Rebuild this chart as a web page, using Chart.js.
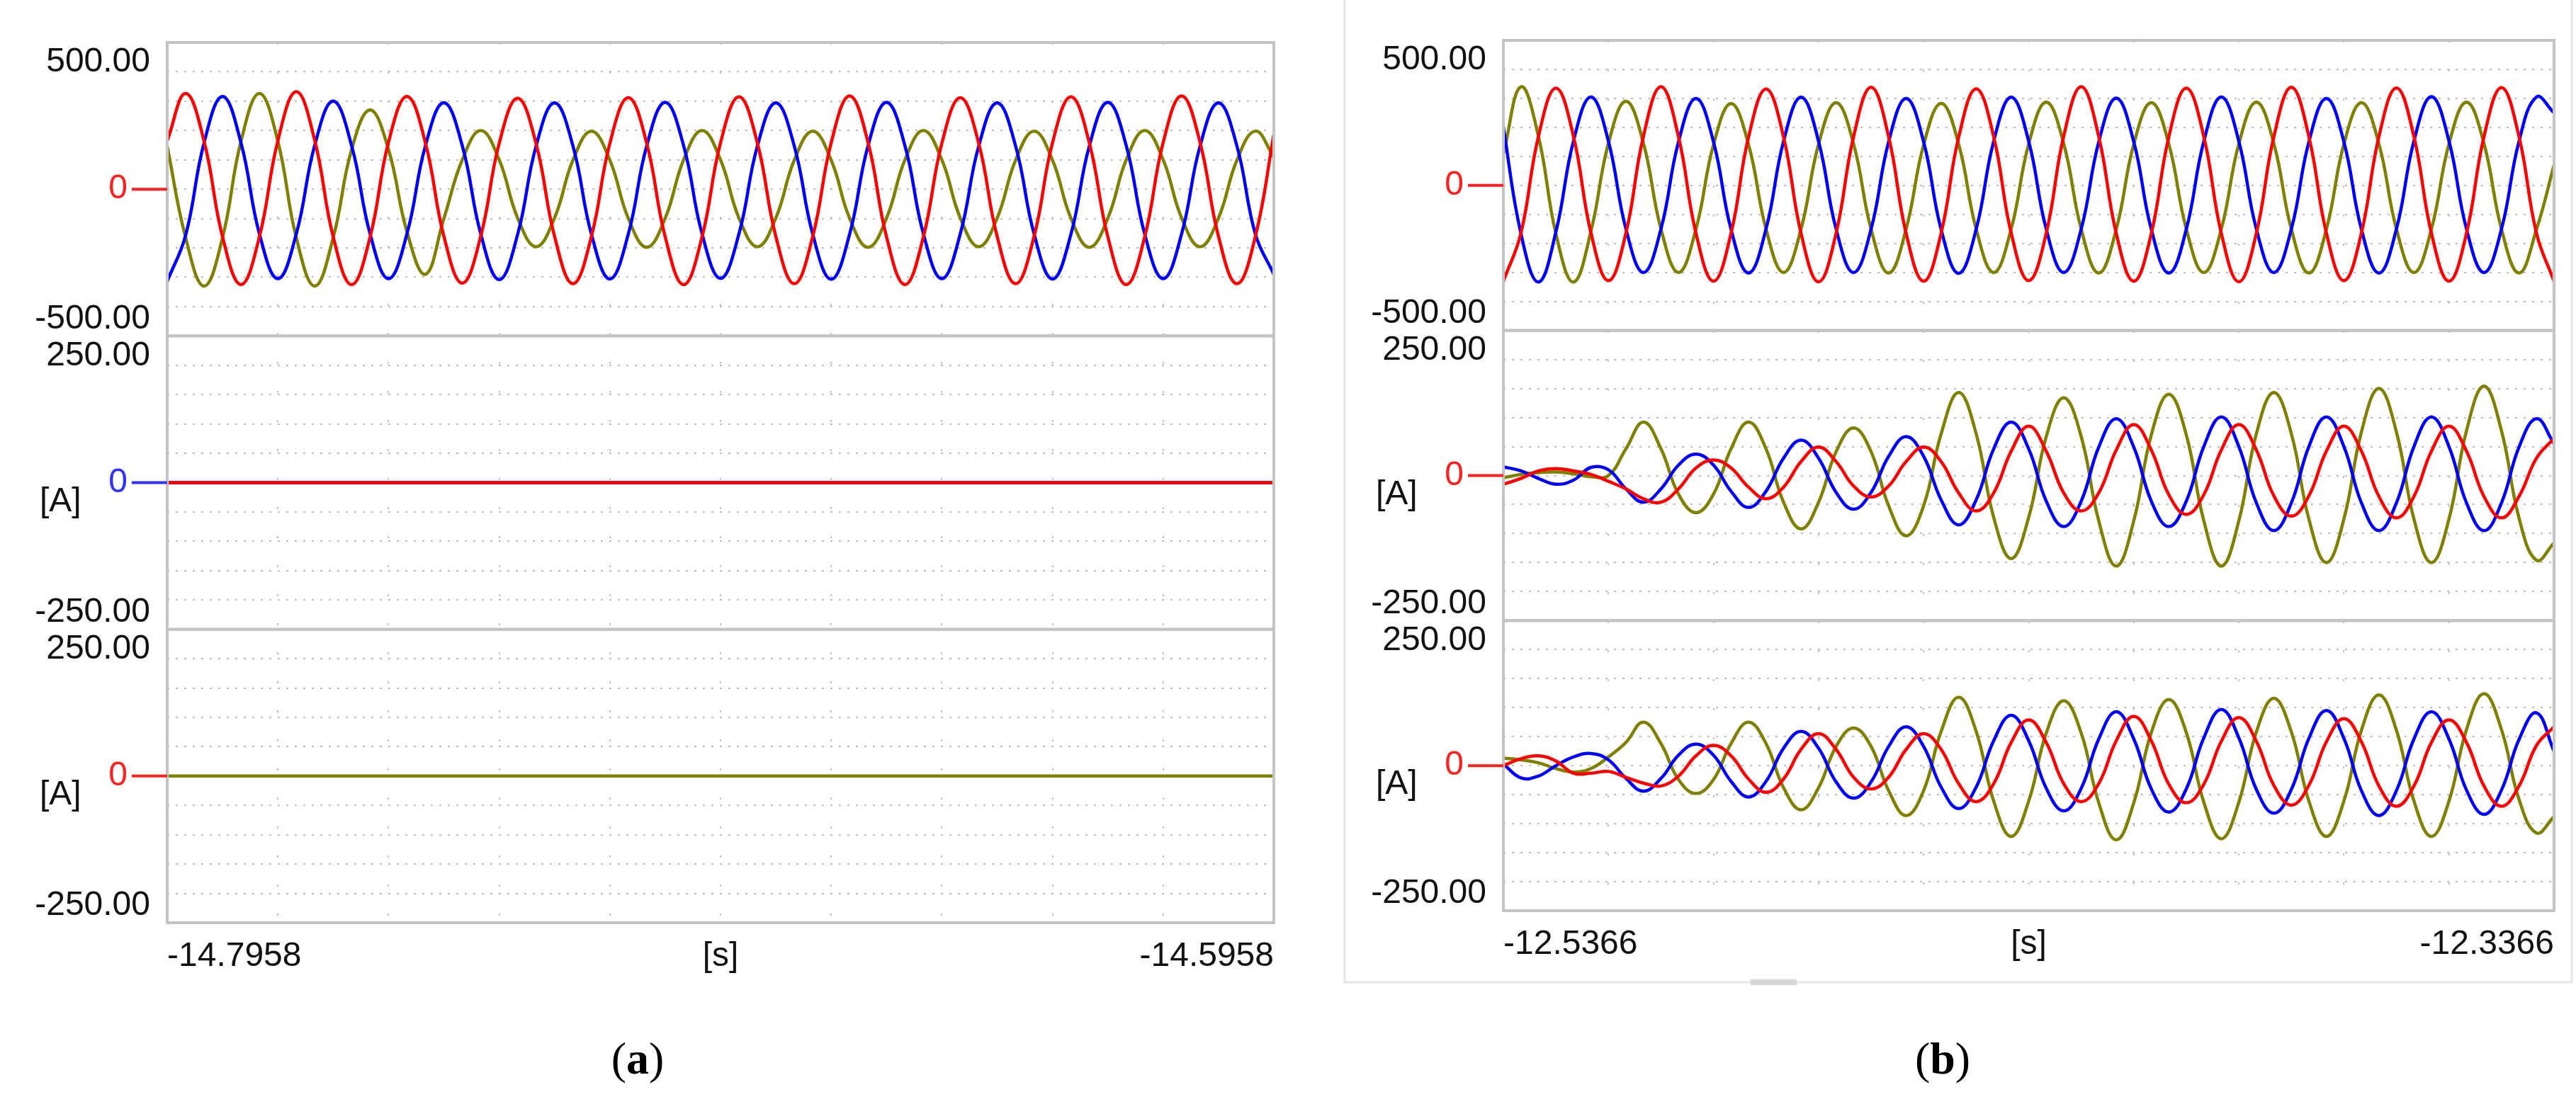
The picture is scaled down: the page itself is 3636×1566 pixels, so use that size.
<!DOCTYPE html>
<html>
<head>
<meta charset="utf-8">
<script src="https://cdn.jsdelivr.net/npm/chart.js@4.4.1/dist/chart.umd.min.js"></script>
<style>
  body { margin: 0; background: #fff; }
  canvas { position: absolute; top: 0; }
  #chartA { left: 0; }
  #chartB { left: 1818px; }
</style>
</head>
<body>
<canvas id="chartA" width="1818" height="1566"></canvas>
<canvas id="chartB" width="1818" height="1566"></canvas>
<script>
// samples every 1/6 period (3.33 ms), 61 per 0.2 s window
const a1Red = [165,326,163,-162,-325,-162, 165,332,166,-162,-325,-163, 160,316,158,-160,-320,-160,
  156,310,155,-160,-322,-161, 156,312,156,-162,-325,-162, 158,315,157,-161,-322,-161,
  158,318,159,-162,-325,-162, 156,312,156,-161,-322,-161, 158,315,157,-162,-325,-162,
  159,318,159,-161,-322,-161, 186];
const a1Blue = [-314,-157,158,316,158,-152, -305,-152,150,300,148,-152, -305,-152,148,295,148,-152,
  -308,-154,147,294,147,-153, -306,-153,148,296,148,-152, -304,-152,147,294,147,-153,
  -307,-153,148,296,148,-152, -305,-152,147,294,147,-152, -306,-153,148,296,148,-153,
  -305,-152,147,294,147,-153, -290];
const a1Olive = [147,-165,-330,-165,163,326, 163,-165,-330,-165,135,270, 135,-145,-290,-100,100,200,
  100,-98,-196,-98,99,198, 99,-99,-198,-99,100,200, 100,-98,-196,-98,99,198,
  99,-99,-198,-99,100,200, 100,-98,-196,-98,99,198, 99,-99,-198,-99,100,200,
  100,-98,-196,-98,99,198, 110];
const a2Flat = [0, 0];
const a3Flat = [0, 0];

const b1Red = [-330,-165,168,335,170,-163, -328,-164,170,340,168,-165, -330,-165,166,332,167,-165,
  -332,-165,168,338,168,-165, -330,-164,166,333,168,-164, -328,-165,170,340,168,-165,
  -330,-166,167,335,168,-165, -332,-165,168,338,168,-164, -328,-164,168,336,168,-165,
  -330,-165,168,337,168,-165, -330];
const b1Blue = [200,-165,-333,-160,152,305, 152,-150,-300,-150,150,300, 150,-151,-302,-150,152,304,
  152,-150,-300,-150,150,300, 150,-152,-303,-151,152,304, 152,-150,-300,-150,150,301,
  150,-151,-302,-151,152,305, 152,-150,-300,-150,150,300, 150,-151,-302,-150,153,306,
  153,-150,-300,-150,152,305, 250];
const b1Olive = [108,340,170,-166,-333,-158, 145,290,145,-150,-300,-150, 140,282,141,-150,-300,-150,
  142,285,143,-151,-302,-150, 140,283,142,-150,-300,-150, 143,287,144,-151,-302,-151,
  142,285,143,-150,-300,-150, 143,287,144,-151,-302,-151, 142,285,143,-150,-300,-150,
  143,287,144,-151,-302,-151, 70];

const b2Red = [-15,-5,8,12,8,2, -10,-23,-40,-46,-23,13, 27,13,-20,-40,-20,24, 49,24,-18,-37,-18,24,
  49,24,-30,-61,-30,42, 85,42,-30,-61,-30,44, 88,44,-33,-67,-33,44, 88,44,-35,-70,-35,42,
  85,42,-36,-73,-36,42, 85,42,-36,-73,-36,30, 64];
const b2Blue = [15,8,-5,-15,-8,14, 10,-23,-46,-23,18,37, 18,-27,-55,-27,30,61, 30,-29,-58,-29,33,67,
  33,-42,-85,-42,46,92, 46,-44,-88,-44,49,98, 49,-44,-88,-44,50,101, 50,-47,-95,-47,50,101,
  50,-47,-95,-47,50,101, 50,-47,-95,-47,49,98, 55];
const b2Olive = [-4,2,5,6,3,-2, 0,46,92,46,-32,-64, -32,46,92,46,-46,-92, -46,41,82,41,-52,-104,
  -52,72,143,72,-72,-143, -72,67,134,67,-78,-156, -78,70,140,70,-78,-156, -78,72,143,72,-75,-150,
  -75,75,150,75,-75,-150, -75,77,154,77,-73,-146, -116];

const b3Red = [0,12,17,8,-13,-13, -10,-20,-30,-35,-18,17, 35,17,-23,-46,-23,28, 55,28,-20,-40,-20,28,
  55,28,-31,-62,-31,40, 79,40,-31,-62,-31,43, 85,43,-32,-64,-32,42, 83,42,-34,-68,-34,41,
  81,41,-35,-70,-35,40, 79,40,-35,-70,-35,35, 67];
const b3Blue = [3,-21,-18,0,15,21, 10,-22,-44,-22,18,37, 18,-27,-54,-27,30,59, 30,-28,-56,-28,33,67,
  33,-37,-74,-37,43,87, 43,-39,-78,-39,46,93, 46,-40,-80,-40,48,97, 48,-41,-82,-41,47,95,
  47,-43,-86,-43,46,93, 46,-42,-84,-42,45,91, 25];
const b3Olive = [13,10,5,-5,-11,-5, 15,40,75,38,-24,-48, -24,38,75,38,-38,-76, -38,33,65,33,-43,-86,
  -43,59,118,59,-61,-122, -61,56,112,56,-64,-128, -64,57,114,57,-63,-126, -63,58,116,58,-61,-122,
  -61,61,122,61,-61,-122, -61,62,124,62,-58,-116, -88];

const timeLabelsA = ['-14.7958', '-14.5958'];
const timeLabelsB = ['-12.5366', '-12.3366'];
const rangeTop = [500, 250, 250];
const rangeTopText = ['500.00', '250.00', '250.00'];
const rangeBottomText = ['-500.00', '-250.00', '-250.00'];
const zeroColorsA = ['#ff2020', '#3030ff', '#ff2020'];
const zeroColorsB = ['#ff2020', '#ff2020', '#ff2020'];

const RED = '#ff0000', BLUE = '#0000ff', OLIVE = '#808000';
const FONT = '"Liberation Sans", Arial, sans-serif';

function series(values, color, axis) {
  let pts;
  if (values.length === 2) pts = [{ x: 0, y: values[0] }, { x: 60, y: values[1] }];
  else pts = values.map((v, i) => ({ x: i, y: v }));
  return { data: pts, borderColor: color, borderWidth: 4.5, pointRadius: 0,
    tension: 0.42, yAxisID: axis, clip: 4 };
}

function yAxis(top) {
  return {
    type: 'linear', position: 'left', stack: 'p', stackWeight: 1,
    min: -top, max: top,
    ticks: { display: false, stepSize: top / 5 },
    grid: { drawTicks: false, lineWidth: 2,
      color: ctx => (ctx.tick && Math.abs(ctx.tick.value) < top) ? '#bdbdbd' : 'rgba(0,0,0,0)' },
    border: { display: false, dash: [3, 9] },
    afterFit: s => { s.width = 0; }
  };
}

// labels, frames, zero markers
function decorPlugin(timeLabels, zeroColors, outerFrame) {
  return {
    id: 'decor',
    afterDraw(chart) {
      const c = chart.ctx;
      const area = chart.chartArea;
      const axes = ['y1', 'y2', 'y3'].map(id => chart.scales[id]);
      c.save();
      axes.forEach((s, i) => {
        c.strokeStyle = '#c4c4c4';
        c.lineWidth = 4;
        c.strokeRect(area.left, s.top, area.right - area.left, s.bottom - s.top);
        c.font = '48px ' + FONT;
        c.textBaseline = 'middle';
        c.textAlign = 'right';
        c.fillStyle = '#111';
        c.fillText(rangeTopText[i], area.left - 24, s.top + 28);
        c.fillText(rangeBottomText[i], area.left - 24, s.bottom - 24);
        const y0 = s.getPixelForValue(0);
        c.fillStyle = zeroColors[i];
        c.fillText('0', area.left - 56, y0);
        c.strokeStyle = zeroColors[i];
        c.lineWidth = 4;
        c.beginPath();
        c.moveTo(area.left - 50, y0);
        c.lineTo(area.left, y0);
        c.stroke();
        if (i > 0) {
          c.textAlign = 'left';
          c.fillStyle = '#111';
          c.fillText('[A]', area.left - 180, y0 + 27);
        }
      });
      const ty = area.bottom + 48;
      c.fillStyle = '#111';
      c.textAlign = 'left';
      c.fillText(timeLabels[0], area.left, ty);
      c.textAlign = 'right';
      c.fillText(timeLabels[1], area.right, ty);
      c.textAlign = 'center';
      c.fillText('[s]', (area.left + area.right) / 2, ty);
      if (outerFrame) {
        c.strokeStyle = '#e6e6e6';
        c.lineWidth = 3;
        c.beginPath();
        c.moveTo(80, 0); c.lineTo(80, 1387); c.lineTo(1812, 1387); c.lineTo(1812, 0);
        c.stroke();
        c.fillStyle = '#d6d6d6';
        c.fillRect(653, 1383, 65, 8);
      }
      c.restore();
    }
  };
}

function makeChart(id, datasets, pad, timeLabels, zeroColors, outerFrame, caption, capX) {
  const ctx = document.getElementById(id).getContext('2d');
  new Chart(ctx, {
    type: 'line',
    data: { datasets: datasets },
    options: {
      responsive: false, animation: false,
      layout: { padding: pad },
      plugins: { legend: { display: false }, tooltip: { enabled: false } },
      scales: {
        x: {
          type: 'linear', min: 0, max: 60,
          ticks: { display: false, stepSize: 6 },
          grid: { drawTicks: false, lineWidth: 2,
            color: c => (c.tick && c.tick.value > 0 && c.tick.value < 60) ? '#c4c4c4' : 'rgba(0,0,0,0)' },
          border: { display: false, dash: [3, 38] },
          afterFit: s => { s.height = 0; }
        },
        y3: yAxis(rangeTop[2]),
        y2: yAxis(rangeTop[1]),
        y1: yAxis(rangeTop[0])
      }
    },
    plugins: [decorPlugin(timeLabels, zeroColors, outerFrame), {
      id: 'caption',
      afterDraw(chart) {
        const c = chart.ctx;
        c.save();
        c.fillStyle = '#000';
        c.textBaseline = 'middle';
        c.font = '64px "Liberation Serif", serif';
        const w1 = c.measureText('(').width;
        c.font = 'bold 64px "Liberation Serif", serif';
        const w2 = c.measureText(caption).width;
        c.font = '64px "Liberation Serif", serif';
        const x0 = capX - (2 * w1 + w2) / 2;
        c.textAlign = 'left';
        c.fillText('(', x0, 1499);
        c.font = 'bold 64px "Liberation Serif", serif';
        c.fillText(caption, x0 + w1, 1499);
        c.font = '64px "Liberation Serif", serif';
        c.fillText(')', x0 + w1 + w2, 1499);
        c.restore();
      }
    }]
  });
}

// first dataset is drawn on top
makeChart('chartA', [
  series(a1Red, RED, 'y1'), series(a1Blue, BLUE, 'y1'), series(a1Olive, OLIVE, 'y1'),
  series(a2Flat, RED, 'y2'), series(a2Flat, BLUE, 'y2'),
  series(a3Flat, OLIVE, 'y3')
], { left: 236, right: 20, top: 60, bottom: 263 }, timeLabelsA, zeroColorsA, false, 'a', 900);

makeChart('chartB', [
  series(b1Red, RED, 'y1'), series(b1Blue, BLUE, 'y1'), series(b1Olive, OLIVE, 'y1'),
  series(b2Red, RED, 'y2'), series(b2Blue, BLUE, 'y2'), series(b2Olive, OLIVE, 'y2'),
  series(b3Red, RED, 'y3'), series(b3Blue, BLUE, 'y3'), series(b3Olive, OLIVE, 'y3')
], { left: 304, right: 31, top: 57, bottom: 280 }, timeLabelsB, zeroColorsB, true, 'b', 924);
</script>
</body>
</html>
